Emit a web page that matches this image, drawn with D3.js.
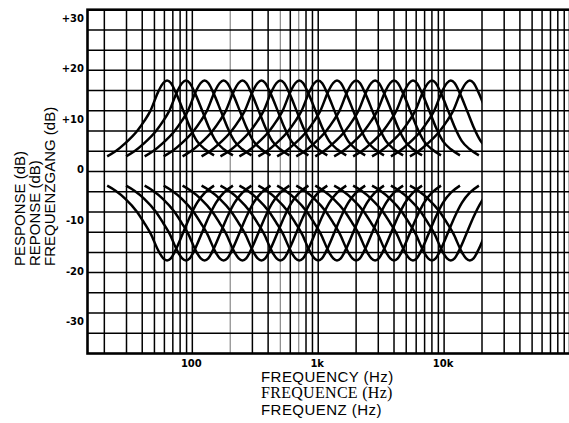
<!DOCTYPE html>
<html>
<head>
<meta charset="utf-8">
<script src="https://cdn.jsdelivr.net/npm/d3@7"></script>
<style>
  html, body { margin: 0; padding: 0; background: #fff; }
  svg { display: block; }
</style>
</head>
<body>
<div id="chart"></div>
<script>
// Band centres of the equaliser (Hz), half-octave spacing
const centresHz = [63, 89, 125, 177, 250, 354, 500, 707, 1000, 1410, 2000, 2830, 4000, 5660, 8000, 11300, 16000];

// Shape of one band, offsets from centre in octaves, gain in dB
const shapeOct = [-1.58, -1.36, -1.1, -0.79, -0.6, -0.44, -0.22, -0.1, 0, 0.1, 0.22, 0.44, 0.6, 0.79, 1.0, 1.24];
const boostDb  = [3.0, 4.0, 5.6, 8.0, 10.0, 12.0, 16.0, 17.5, 18.0, 17.5, 15.8, 11.8, 8.8, 6.0, 4.4, 3.2];
const cutDb    = [-2.8, -3.8, -5.4, -8.0, -10.2, -12.2, -15.8, -17.2, -17.6, -17.2, -15.6, -11.8, -9.0, -6.2, -4.2, -2.8];

// Axis labels
const yTickValues = [30, 20, 10, 0, -10, -20, -30];
const yTickLabels = ["+30", "+20", "+10", "0", "-10", "-20", "-30"];
const xTickValues = [100, 1000, 10000];
const xTickLabels = ["100", "1k", "10k"];
const yTitleLines = ["PESPONSE (dB)", "REPONSE (dB)", "FREQUENZGANG (dB)"];
const xTitleLines = ["FREQUENCY (Hz)", "FREQUENCE (Hz)", "FREQUENZ (Hz)"];
// grid lines that came out faint in the print
const fadedGridHz = [200, 500, 700];

const width = 569, height = 423;
const plotL = 87.5, plotR = 570, plotT = 9.7, plotB = 353.5;

const svg = d3.select("#chart").append("svg")
    .attr("width", width)
    .attr("height", height);

svg.append("rect").attr("width", width).attr("height", height).attr("fill", "#fff");

const x = d3.scaleLog().domain([14.7, 100000]).range([plotL, plotR]);
const y = d3.scaleLinear().domain([-36, 32]).range([plotB, plotT]);

// grid
const grid = svg.append("g");
grid.selectAll("line.v")
    .data(x.ticks().filter(d => d > 14.7))
    .join("line")
    .attr("class", "v")
    .attr("x1", d => x(d)).attr("x2", d => x(d))
    .attr("y1", plotT).attr("y2", plotB)
    .attr("stroke", d => fadedGridHz.includes(d) ? "#888" : "#000")
    .attr("stroke-width", d => fadedGridHz.includes(d) ? 1.2 : 1.5);

grid.selectAll("line.h")
    .data(d3.range(-32, 32, 4))
    .join("line")
    .attr("class", "h")
    .attr("x1", plotL).attr("x2", plotR)
    .attr("y1", d => y(d)).attr("y2", d => y(d))
    .attr("stroke", "#000")
    .attr("stroke-width", 1.5);

// frame
svg.append("rect")
    .attr("x", plotL).attr("y", plotT)
    .attr("width", plotR - plotL).attr("height", plotB - plotT)
    .attr("fill", "none")
    .attr("stroke", "#000")
    .attr("stroke-width", 2.6);

// curves, cut off at 20 kHz
svg.append("clipPath").attr("id", "clip")
    .append("rect")
    .attr("x", plotL).attr("y", plotT)
    .attr("width", x(20000) - plotL).attr("height", plotB - plotT);

const line = d3.line()
    .x(p => x(p.f))
    .y(p => y(p.db))
    .curve(d3.curveMonotoneX);

const curves = svg.append("g").attr("clip-path", "url(#clip)");
[boostDb, cutDb].forEach(gains => {
    curves.append("g")
        .selectAll("path")
        .data(centresHz)
        .join("path")
        .attr("d", c => line(shapeOct.map((o, i) => ({ f: c * Math.pow(2, o), db: gains[i] }))))
        .attr("fill", "none")
        .attr("stroke", "#000")
        .attr("stroke-width", 2.5)
        .attr("stroke-linejoin", "round");
});

// y tick labels
svg.append("g")
    .selectAll("text")
    .data(yTickValues)
    .join("text")
    .attr("x", 84)
    .attr("y", d => y(d) - 1.5)
    .attr("dy", "0.35em")
    .attr("text-anchor", "end")
    .style("font-family", "'DejaVu Sans', sans-serif")
    .style("font-weight", "bold")
    .style("font-size", "10px")
    .text((d, i) => yTickLabels[i]);

// x tick labels
svg.append("g")
    .selectAll("text")
    .data(xTickValues)
    .join("text")
    .attr("x", d => x(d) - 1)
    .attr("y", 367)
    .attr("text-anchor", "middle")
    .style("font-family", "'DejaVu Sans', sans-serif")
    .style("font-weight", "bold")
    .style("font-size", "10px")
    .text((d, i) => xTickLabels[i]);

// y title, three languages
const yTitleX = [25, 39.5, 54.5];
svg.append("g")
    .selectAll("text")
    .data(yTitleLines)
    .join("text")
    .attr("transform", (d, i) => `translate(${yTitleX[i]},266) rotate(-90)`)
    .attr("text-anchor", "start")
    .style("font-family", "'Liberation Sans', Arial, sans-serif")
    .style("font-size", "15px")
    .text(d => d);

// x title, three languages (French line is set in a serif face)
const xTitleY = [382, 398, 414.5];
svg.append("g")
    .selectAll("text")
    .data(xTitleLines)
    .join("text")
    .attr("x", 261)
    .attr("y", (d, i) => xTitleY[i])
    .style("font-family", (d, i) => i === 1 ? "'Liberation Serif', 'Times New Roman', serif" : "'Liberation Sans', Arial, sans-serif")
    .style("font-size", (d, i) => i === 1 ? "16px" : "15px")
    .style("letter-spacing", (d, i) => i === 1 ? "0.3px" : "0.45px")
    .text(d => d);
</script>
</body>
</html>
